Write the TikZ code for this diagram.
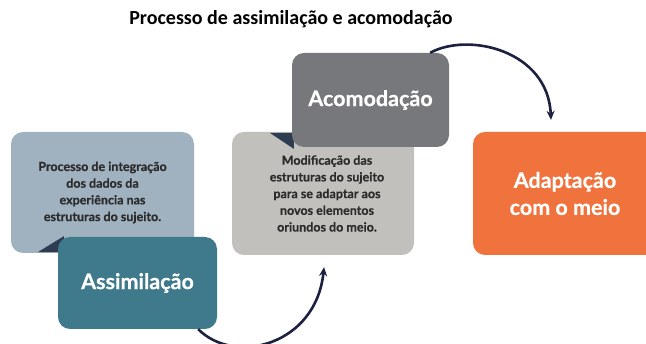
\documentclass[tikz,border=0pt]{standalone}
\usepackage{fontspec}
\setmainfont{Lato}[BoldFeatures={FakeBold=0.5}]
\newfontfamily\titlefont{Carlito}
\usetikzlibrary{arrows.meta}
\definecolor{lblue}{HTML}{A0B1BF}
\definecolor{teal}{HTML}{3E7A8B}
\definecolor{lgray}{HTML}{C2C0BD}
\definecolor{dgray}{HTML}{77787C}
\definecolor{orng}{HTML}{F0733E}
\definecolor{navy}{HTML}{1C2140}
\definecolor{tailc}{HTML}{2E3C52}
\definecolor{txt}{HTML}{2B2B2B}
\tikzset{
  box/.style={rounded corners=12pt, inner sep=0pt, align=center, font=\bfseries},
  infobox/.style={box, text=txt, font=\bfseries\fontsize{12.5}{16.7}\selectfont},
  headbox/.style={box, text=white, font=\bfseries\fontsize{21.5}{27}\selectfont},
  flow/.style={navy, line width=2.6pt, -{Stealth[length=9pt,width=8pt]}},
}
\begin{document}
\begin{tikzpicture}[x=1pt,y=-1pt]
\clip (0,0) rectangle (646,344);
\fill[white] (0,0) rectangle (646,344);
\node[font=\titlefont\bfseries\fontsize{20}{22}\selectfont] (title) at (291,19) {Processo de assimilação e acomodação};
% light boxes
\node[infobox, fill=lblue, minimum width=183pt, minimum height=121pt] (integ) at (102.5,192.5)
  {Processo de integração\\dos dados da\\experiência nas\\estruturas do sujeito.};
\node[infobox, fill=lgray, minimum width=182pt, minimum height=123pt] (modif) at (323,193.5)
  {\hspace*{8pt}Modificação das\\\hspace*{8pt}estruturas do sujeito\\\hspace*{8pt}para se adaptar aos\\\hspace*{8pt}novos elementos\\\hspace*{8pt}oriundos do meio.};
% tails
\fill[tailc] (integ.south west) ++(27pt,1pt) -- ++(26pt,16pt) -- ++(0,-16pt) -- cycle;
\fill[tailc] (modif.north west) ++(38pt,-1pt) -- ++(24pt,0) -- ++(0,-16pt) -- cycle;
% heading boxes
\node[headbox, fill=teal, minimum width=159pt, minimum height=92pt] (assim) at (137.5,283) {Assimilação};
\node[headbox, fill=dgray, minimum width=157pt, minimum height=94pt] (acom) at (370.5,100) {Acomodação};
\node[headbox, fill=orng, minimum width=184pt, minimum height=123pt] (adapt) at (565,193.5) {Adaptação\\com o meio};
% arrows
\draw[flow] ([xshift=-19pt]acom.north east) .. controls (468,32) and (548,50) .. ([xshift=-14pt,yshift=12pt]adapt.north);
\draw[flow] ([xshift=-19pt]assim.south east) .. controls (235,366) and (316,345) .. ([xshift=1pt,yshift=-12pt]modif.south);
\end{tikzpicture}
\end{document}
